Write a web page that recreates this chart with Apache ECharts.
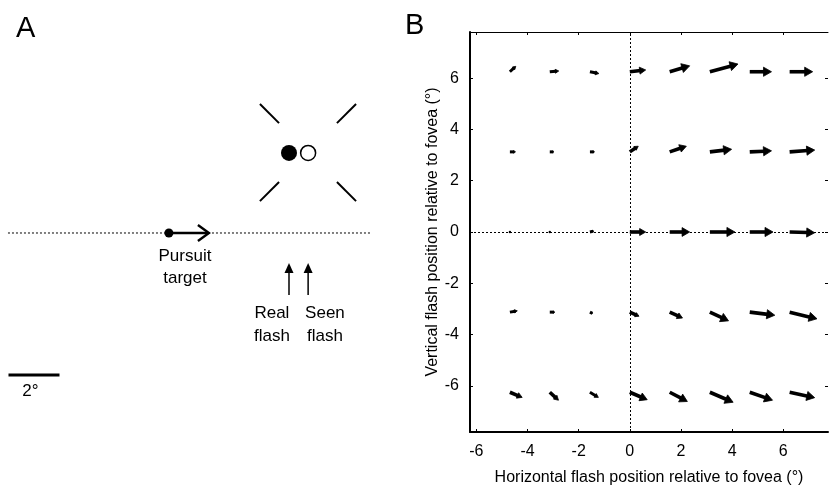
<!DOCTYPE html>
<html>
<head>
<meta charset="utf-8">
<script src="https://cdn.jsdelivr.net/npm/echarts@6/dist/echarts.min.js"></script>
<style>html,body{margin:0;padding:0;background:#fff}#c{width:830px;height:486px}</style>
</head>
<body>
<div id="c"></div>
<script>
// ---------- Panel B data (degrees) ----------
const xTicks = [-6, -4, -2, 0, 2, 4, 6];
const yTicks = [-6, -4, -2, 0, 2, 4, 6];
const gridX = [-4.69, -3.13, -1.56, 0, 1.56, 3.13, 4.69, 6.25];
const gridY = [6.25, 3.125, 0, -3.125, -6.25];
// displacement vectors (seen - real), one row per gridY
const dxRows = [
  [0.23, 0.35, 0.35, 0.62, 0.78, 1.10, 0.85, 0.90],
  [0.22, 0.16, 0.18, 0.33, 0.65, 0.85, 0.85, 0.98],
  [0.05, 0.06, 0.15, 0.62, 0.78, 0.98, 0.91, 0.98],
  [0.29, 0.20, 0.10, 0.36, 0.50, 0.73, 0.98, 1.07],
  [0.48, 0.34, 0.33, 0.68, 0.69, 0.91, 0.89, 0.98]
];
const dyRows = [
  [0.21, 0.03, -0.07, 0.07, 0.23, 0.30, 0.00, 0.00],
  [0.00, 0.00, 0.00, 0.22, 0.22, 0.10, 0.04, 0.07],
  [0.00, 0.00, 0.04, 0.00, 0.00, 0.00, 0.00, -0.03],
  [0.05, 0.00, -0.05, -0.16, -0.23, -0.34, -0.12, -0.26],
  [-0.20, -0.31, -0.20, -0.29, -0.36, -0.39, -0.31, -0.21]
];
const xTitle = 'Horizontal flash position relative to fovea (°)';
const yTitle = 'Vertical flash position relative to fovea (°)';

// ---------- Panel A schematic data (degrees, origin = real flash on the pursuit path) ----------
const baseLine = [[-11.02, 0], [3.18, 0]];
const pursuitDot = [[-4.71, 0]];
const pursuitArrow = [[-4.71, 0, -3.14, 0]];
const realFlash = [[0, 3.14]];
const seenFlash = [[0.75, 3.14]];
const crossSegs = [
  [-1.14, 5.06, -0.39, 4.31],
  [1.88, 4.31, 2.63, 5.06],
  [-1.14, 1.25, -0.39, 2.00],
  [1.88, 2.00, 2.63, 1.25]
];
const flashArrows = [[0, -2.43, 0, -1.18], [0.75, -2.43, 0.75, -1.18]];
const labelTexts = ['Pursuit', 'target', 'Real', 'flash', 'Seen', 'flash', '2°'];
const labelPos = [[-4.08, -0.90], [-4.08, -1.76], [-0.67, -3.14], [-0.67, -4.04], [1.41, -3.14], [1.41, -4.04], [-10.14, -6.2]];
const scaleBar = [[-11.0, -5.57], [-9.0, -5.57]];

const FONT = '"Liberation Sans", Arial, Helvetica, sans-serif';

const arrowData = [];
gridY.forEach((y, r) => gridX.forEach((x, c) => arrowData.push([x, y, dxRows[r][c], dyRows[r][c]])));

function renderQuiver(params, api) {
  const x = api.value(0), y = api.value(1), dx = api.value(2), dy = api.value(3);
  const p0 = api.coord([x, y]), p1 = api.coord([x + dx, y + dy]);
  const vx = p1[0] - p0[0], vy = p1[1] - p0[1];
  const L = Math.hypot(vx, vy);
  if (L < 2.5) {
    return {type: 'circle', shape: {cx: p0[0], cy: p0[1], r: 1.2}, style: {fill: '#000'}};
  }
  const ux = vx / L, uy = vy / L;
  const h = Math.min(8, L * 0.38), w = Math.min(4.6, L * 0.22);
  const bx = p1[0] - ux * h, by = p1[1] - uy * h;
  const lw = L < 10 ? 3 : 3.6;
  return {type: 'group', children: [
    {type: 'line', shape: {x1: p0[0], y1: p0[1], x2: bx + ux, y2: by + uy}, style: {stroke: '#000', lineWidth: lw}},
    {type: 'polygon', shape: {points: [[p1[0], p1[1]], [bx - uy * w, by + ux * w], [bx + uy * w, by - ux * w]]}, style: {fill: '#000', stroke: '#000', lineWidth: 0.8, lineJoin: 'miter'}}
  ]};
}

function renderSegs(params, api) {
  const a = api.coord([api.value(0), api.value(1)]), b = api.coord([api.value(2), api.value(3)]);
  return {type: 'line', shape: {x1: a[0], y1: a[1], x2: b[0], y2: b[1]}, style: {stroke: '#000', lineWidth: 2}};
}

function renderOpenArrow(params, api) {
  const a = api.coord([api.value(0), api.value(1)]), b = api.coord([api.value(2), api.value(3)]);
  const vx = b[0] - a[0], vy = b[1] - a[1], L = Math.hypot(vx, vy);
  const ux = vx / L, uy = vy / L, h = 11, w = 8;
  const bx = b[0] - ux * h, by = b[1] - uy * h;
  return {type: 'group', children: [
    {type: 'line', shape: {x1: a[0], y1: a[1], x2: b[0] - ux, y2: b[1] - uy}, style: {stroke: '#000', lineWidth: 2.4}},
    {type: 'polyline', shape: {points: [[bx - uy * w, by + ux * w], [b[0], b[1]], [bx + uy * w, by - ux * w]]}, style: {stroke: '#000', lineWidth: 2.4, fill: null}}
  ]};
}

function renderThinArrow(params, api) {
  const a = api.coord([api.value(0), api.value(1)]), b = api.coord([api.value(2), api.value(3)]);
  const vx = b[0] - a[0], vy = b[1] - a[1], L = Math.hypot(vx, vy);
  const ux = vx / L, uy = vy / L, h = 10, w = 4.5;
  const bx = b[0] - ux * h, by = b[1] - uy * h;
  return {type: 'group', children: [
    {type: 'line', shape: {x1: a[0], y1: a[1], x2: bx, y2: by}, style: {stroke: '#000', lineWidth: 1.5}},
    {type: 'polygon', shape: {points: [[b[0], b[1]], [bx - uy * w, by + ux * w], [bx + uy * w, by - ux * w]]}, style: {fill: '#000'}}
  ]};
}

function renderText(params, api) {
  const p = api.coord([api.value(0), api.value(1)]);
  return {type: 'text', x: p[0], y: p[1], style: {text: labelTexts[params.dataIndex], fontSize: 17, fontFamily: FONT, fill: '#000', align: 'center', verticalAlign: 'middle'}};
}

const chart = echarts.init(document.getElementById('c'), null, {renderer: 'canvas'});
const hiddenAxis = {show: false};
const option = {
  animation: false,
  backgroundColor: '#fff',
  title: [
    {text: 'A', left: 11, top: 9, textStyle: {fontSize: 29, fontWeight: 'normal', fontFamily: FONT, color: '#000'}},
    {text: 'B', left: 400, top: 6, textStyle: {fontSize: 29, fontWeight: 'normal', fontFamily: FONT, color: '#000'}}
  ],
  grid: [
    {left: 0, top: 0, width: 400, height: 486, containLabel: false, outerBoundsMode: 'none'},
    {left: 470, top: 32, width: 358, height: 400, containLabel: false, outerBoundsMode: 'none'}
  ],
  xAxis: [
    Object.assign({gridIndex: 0, type: 'value', min: -11.333, max: 4.353}, hiddenAxis),
    {gridIndex: 1, type: 'value', position: 'bottom', min: -6.25, max: 7.75,
      axisLine: {show: true, onZero: false, lineStyle: {color: '#000', width: 2}},
      axisTick: {show: true, inside: true, length: 3, customValues: xTicks, lineStyle: {color: '#000'}},
      axisLabel: {show: true, customValues: xTicks, margin: 12, fontSize: 16, fontFamily: FONT, color: '#000'},
      splitLine: {show: false},
      name: xTitle, nameLocation: 'middle', nameGap: 38,
      nameTextStyle: {fontSize: 16, fontFamily: FONT, color: '#000'}},
    {gridIndex: 1, type: 'value', position: 'top', min: -6.25, max: 7.75,
      axisLine: {show: true, onZero: false, lineStyle: {color: '#000', width: 1}},
      axisTick: {show: true, inside: true, length: 3, customValues: xTicks, lineStyle: {color: '#000'}},
      axisLabel: {show: false}, splitLine: {show: false}}
  ],
  yAxis: [
    Object.assign({gridIndex: 0, type: 'value', min: -9.922, max: 9.137}, hiddenAxis),
    {gridIndex: 1, type: 'value', position: 'left', min: -7.8, max: 7.8,
      axisLine: {show: true, onZero: false, lineStyle: {color: '#000', width: 2}},
      axisTick: {show: true, inside: true, length: 3, customValues: yTicks, lineStyle: {color: '#000'}},
      axisLabel: {show: true, customValues: yTicks, margin: 11, fontSize: 16, fontFamily: FONT, color: '#000'},
      splitLine: {show: false},
      name: yTitle, nameLocation: 'middle', nameGap: 29,
      nameTextStyle: {fontSize: 16, fontFamily: FONT, color: '#000'}},
    {gridIndex: 1, type: 'value', position: 'right', min: -7.8, max: 7.8,
      axisLine: {show: false, onZero: false},
      axisTick: {show: true, inside: true, length: 3, customValues: yTicks, lineStyle: {color: '#000'}},
      axisLabel: {show: false}, splitLine: {show: false}}
  ],
  series: [
    // Panel A
    {type: 'line', xAxisIndex: 0, yAxisIndex: 0, data: baseLine, symbol: 'none', silent: true,
      lineStyle: {color: '#000', width: 1, type: [2, 2]}},
    {type: 'line', xAxisIndex: 0, yAxisIndex: 0, data: scaleBar, symbol: 'none', silent: true,
      lineStyle: {color: '#000', width: 3}},
    {type: 'custom', xAxisIndex: 0, yAxisIndex: 0, data: crossSegs, renderItem: renderSegs, encode: {x: [0, 2], y: [1, 3]}, silent: true},
    {type: 'custom', xAxisIndex: 0, yAxisIndex: 0, data: pursuitArrow, renderItem: renderOpenArrow, encode: {x: [0, 2], y: [1, 3]}, silent: true},
    {type: 'custom', xAxisIndex: 0, yAxisIndex: 0, data: flashArrows, renderItem: renderThinArrow, encode: {x: [0, 2], y: [1, 3]}, silent: true},
    {type: 'scatter', xAxisIndex: 0, yAxisIndex: 0, data: pursuitDot, symbol: 'circle', symbolSize: 9, itemStyle: {color: '#000', opacity: 1}, silent: true},
    {type: 'scatter', xAxisIndex: 0, yAxisIndex: 0, data: realFlash, symbol: 'circle', symbolSize: 16, itemStyle: {color: '#000', opacity: 1}, silent: true},
    {type: 'scatter', xAxisIndex: 0, yAxisIndex: 0, data: seenFlash, symbol: 'circle', symbolSize: 15, itemStyle: {color: '#fff', borderColor: '#000', borderWidth: 1.5, opacity: 1}, silent: true},
    {type: 'custom', xAxisIndex: 0, yAxisIndex: 0, data: labelPos, renderItem: renderText, encode: {x: 0, y: 1}, silent: true},
    // Panel B
    {type: 'line', xAxisIndex: 1, yAxisIndex: 1, data: [], silent: true,
      markLine: {silent: true, symbol: ['none', 'none'], label: {show: false},
        lineStyle: {color: '#000', width: 1, type: [2, 2]},
        data: [{xAxis: 0}, {yAxis: 0}]}},
    {type: 'custom', xAxisIndex: 1, yAxisIndex: 1, data: arrowData, renderItem: renderQuiver, encode: {x: 0, y: 1}, silent: true}
  ]
};
chart.setOption(option);
</script>
</body>
</html>
